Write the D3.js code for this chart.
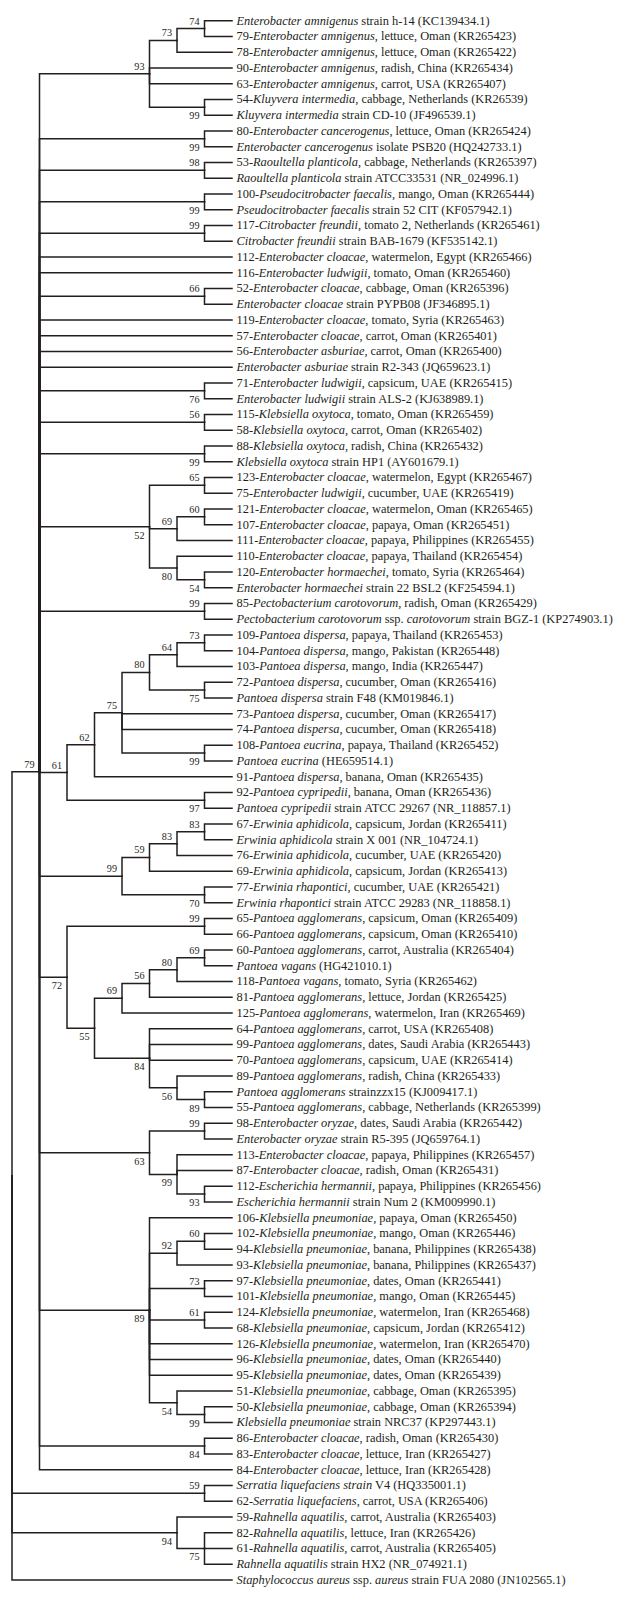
<!DOCTYPE html>
<html><head><meta charset="utf-8">
<script src="https://cdn.jsdelivr.net/npm/d3@7"></script>
<style>
html,body{margin:0;padding:0;background:#fff;}
svg{display:block;}
</style></head><body>
<svg id="chart" width="618" height="1599"></svg>
<script>
// ---- DATA ----
// Leaf labels in tree order (text between * * is italic)
const leafLabels = [
"*Enterobacter amnigenus* strain h-14 (KC139434.1)",
"79-*Enterobacter amnigenus*, lettuce, Oman (KR265423)",
"78-*Enterobacter amnigenus*, lettuce, Oman (KR265422)",
"90-*Enterobacter amnigenus*, radish, China (KR265434)",
"63-*Enterobacter amnigenus*, carrot, USA (KR265407)",
"54-*Kluyvera intermedia*, cabbage, Netherlands (KR26539)",
"*Kluyvera intermedia* strain CD-10 (JF496539.1)",
"80-*Enterobacter cancerogenus*, lettuce, Oman (KR265424)",
"*Enterobacter cancerogenus* isolate PSB20 (HQ242733.1)",
"53-*Raoultella planticola*, cabbage, Netherlands (KR265397)",
"*Raoultella planticola* strain ATCC33531 (NR_024996.1)",
"100-*Pseudocitrobacter faecalis,* mango, Oman (KR265444)",
"*Pseudocitrobacter faecalis* strain 52 CIT (KF057942.1)",
"117-*Citrobacter freundii*, tomato 2, Netherlands (KR265461)",
"*Citrobacter freundii* strain BAB-1679 (KF535142.1)",
"112-*Enterobacter cloacae*, watermelon, Egypt (KR265466)",
"116-*Enterobacter ludwigii*, tomato, Oman (KR265460)",
"52-*Enterobacter cloacae*, cabbage, Oman (KR265396)",
"*Enterobacter cloacae* strain PYPB08 (JF346895.1)",
"119-*Enterobacter cloacae*, tomato, Syria (KR265463)",
"57-*Enterobacter cloacae*, carrot, Oman (KR265401)",
"56-*Enterobacter asburiae*, carrot, Oman (KR265400)",
"*Enterobacter asburiae* strain R2-343 (JQ659623.1)",
"71-*Enterobacter ludwigii*, capsicum, UAE (KR265415)",
"*Enterobacter ludwigii* strain ALS-2 (KJ638989.1)",
"115-*Klebsiella oxytoca*, tomato, Oman (KR265459)",
"58-*Klebsiella oxytoca*, carrot, Oman (KR265402)",
"88-*Klebsiella oxytoca*, radish, China (KR265432)",
"*Klebsiella oxytoca* strain HP1 (AY601679.1)",
"123-*Enterobacter cloacae*, watermelon, Egypt (KR265467)",
"75-*Enterobacter ludwigii*, cucumber, UAE (KR265419)",
"121-*Enterobacter cloacae*, watermelon, Oman (KR265465)",
"107-*Enterobacter cloacae*, papaya, Oman (KR265451)",
"111-*Enterobacter cloacae*, papaya, Philippines (KR265455)",
"110-*Enterobacter cloacae*, papaya, Thailand (KR265454)",
"120-*Enterobacter hormaechei*, tomato, Syria (KR265464)",
"*Enterobacter hormaechei* strain 22 BSL2 (KF254594.1)",
"85-*Pectobacterium carotovorum*, radish, Oman (KR265429)",
"*Pectobacterium carotovorum* ssp. *carotovorum* strain BGZ-1 (KP274903.1)",
"109-*Pantoea dispersa*, papaya, Thailand (KR265453)",
"104-*Pantoea dispersa*, mango, Pakistan (KR265448)",
"103-*Pantoea dispersa*, mango, India (KR265447)",
"72-*Pantoea dispersa*, cucumber, Oman (KR265416)",
"*Pantoea dispersa* strain F48 (KM019846.1)",
"73-*Pantoea dispersa*, cucumber, Oman (KR265417)",
"74-*Pantoea dispersa*, cucumber, Oman (KR265418)",
"108-*Pantoea eucrina*, papaya, Thailand (KR265452)",
"*Pantoea eucrina* (HE659514.1)",
"91-*Pantoea dispersa*, banana, Oman (KR265435)",
"92-*Pantoea cypripedii*, banana, Oman (KR265436)",
"*Pantoea cypripedii* strain ATCC 29267 (NR_118857.1)",
"67-*Erwinia aphidicola*, capsicum, Jordan (KR265411)",
"*Erwinia aphidicola* strain X 001 (NR_104724.1)",
"76-*Erwinia aphidicola*, cucumber, UAE (KR265420)",
"69-*Erwinia aphidicola*, capsicum, Jordan (KR265413)",
"77-*Erwinia rhapontici*, cucumber, UAE (KR265421)",
"*Erwinia rhapontici* strain ATCC 29283 (NR_118858.1)",
"65-*Pantoea agglomerans*, capsicum, Oman (KR265409)",
"66-*Pantoea agglomerans*, capsicum, Oman (KR265410)",
"60-*Pantoea agglomerans*, carrot, Australia (KR265404)",
"*Pantoea vagans* (HG421010.1)",
"118-*Pantoea vagans*, tomato, Syria (KR265462)",
"81-*Pantoea agglomerans*, lettuce, Jordan (KR265425)",
"125-*Pantoea agglomerans*, watermelon, Iran (KR265469)",
"64-*Pantoea agglomerans*, carrot, USA (KR265408)",
"99-*Pantoea agglomerans*, dates, Saudi Arabia (KR265443)",
"70-*Pantoea agglomerans*, capsicum, UAE (KR265414)",
"89-*Pantoea agglomerans*, radish, China (KR265433)",
"*Pantoea agglomerans* strainzzx15 (KJ009417.1)",
"55-*Pantoea agglomerans*, cabbage, Netherlands (KR265399)",
"98-*Enterobacter oryzae*, dates, Saudi Arabia (KR265442)",
"*Enterobacter oryzae* strain R5-395 (JQ659764.1)",
"113-*Enterobacter cloacae*, papaya, Philippines (KR265457)",
"87-*Enterobacter cloacae*, radish, Oman (KR265431)",
"112-*Escherichia hermannii*, papaya, Philippines (KR265456)",
"*Escherichia hermannii* strain Num 2 (KM009990.1)",
"106-*Klebsiella pneumoniae*, papaya, Oman (KR265450)",
"102-*Klebsiella pneumoniae*, mango, Oman (KR265446)",
"94-*Klebsiella pneumoniae*, banana, Philippines (KR265438)",
"93-*Klebsiella pneumoniae*, banana, Philippines (KR265437)",
"97-*Klebsiella pneumoniae*, dates, Oman (KR265441)",
"101-*Klebsiella pneumoniae*, mango, Oman (KR265445)",
"124-*Klebsiella pneumoniae*, watermelon, Iran (KR265468)",
"68-*Klebsiella pneumoniae*, capsicum, Jordan (KR265412)",
"126-*Klebsiella pneumoniae*, watermelon, Iran (KR265470)",
"96-*Klebsiella pneumoniae*, dates, Oman (KR265440)",
"95-*Klebsiella pneumoniae*, dates, Oman (KR265439)",
"51-*Klebsiella pneumoniae*, cabbage, Oman (KR265395)",
"50-*Klebsiella pneumoniae*, cabbage, Oman (KR265394)",
"*Klebsiella pneumoniae* strain NRC37 (KP297443.1)",
"86-*Enterobacter cloacae*, radish, Oman (KR265430)",
"83-*Enterobacter cloacae*, lettuce, Iran (KR265427)",
"84-*Enterobacter cloacae*, lettuce, Iran (KR265428)",
"*Serratia liquefaciens strain* V4 (HQ335001.1)",
"62-*Serratia liquefaciens*, carrot, USA (KR265406)",
"59-*Rahnella aquatilis*, carrot, Australia (KR265403)",
"82-*Rahnella aquatilis*, lettuce, Iran (KR265426)",
"61-*Rahnella aquatilis*, carrot, Australia (KR265405)",
"*Rahnella aquatilis* strain HX2 (NR_074921.1)",
"*Staphylococcus aureus* ssp. *aureus* strain FUA 2080 (JN102565.1)"
];

// Tree topology (Newick): leaves = index into leafLabels, internal names = bootstrap values
const topology = "(((((0,1)74,2)73,3,4,(5,6)99)93,(7,8)99,(9,10)98,(11,12)99,(13,14)99,15,16,(17,18)66,19,20,21,22,(23,24)76,(25,26)56,(27,28)99,((29,30)65,((31,32)60,33)69,(34,(35,36)54)80)52,(37,38)99,((((((39,40)73,41)64,(42,43)75)80,44,45,(46,47)99)75,48)62,(49,50)97)61,((((51,52)83,53)83,54)59,(55,56)70)99,((57,58)99,(((((59,60)69,61)80,62)56,63)69,(64,65,66,(67,(68,69)89)56)84)55)72,((70,71)99,(72,73,(74,75)93)99)63,(76,((77,78)60,79)92,(80,81)73,(82,83)61,84,85,86,(87,(88,89)99)54)89,(90,91)84,92)79,(93,94)59,(95,(96,97,98)75)94,99);";

// ---- LAYOUT (label placement: clades whose bootstrap sits under the branch, keyed first-last leaf) ----
const belowLabelClades = ["5-6","7-8","11-12","23-24","27-28","29-36","34-36","35-36","42-43","46-47","49-50","55-56","57-69","59-69","64-69","67-69","68-69","70-75","72-75","74-75","76-89","87-89","88-89","90-91","95-98","96-98"];

function parseNewick(s) {
  let i = 0;
  function node() {
    const n = {};
    if (s[i] === '(') {
      i++; n.children = [];
      while (true) {
        n.children.push(node());
        if (s[i] === ',') { i++; continue; }
        if (s[i] === ')') { i++; break; }
      }
    }
    let name = '';
    while (i < s.length && !',();'.includes(s[i])) name += s[i++];
    n.name = name;
    return n;
  }
  return node();
}

const svg = d3.select('#chart');
const root = d3.hierarchy(parseNewick(topology));

const leafX = 232, rootX = 12;
const x = d3.scaleLinear().domain([root.height, 0]).range([rootX, leafX]);
const y = d3.scaleLinear().domain([0, leafLabels.length - 1]).range([20.7, 1580]);

root.eachAfter(n => {
  n.px = x(n.height);
  if (!n.children) n.py = y(+n.data.name);
  else n.py = (n.children[0].py + n.children[n.children.length - 1].py) / 2;
});

const ink = '#231f20';
const g = svg.append('g');

g.selectAll('path.link')
  .data(root.descendants().filter(n => n.parent))
  .join('path')
  .attr('class', 'link')
  .attr('fill', 'none')
  .attr('stroke', ink)
  .attr('stroke-width', 1.5)
  .attr('stroke-linecap', 'square')
  .attr('d', n => `M${n.parent.px},${n.parent.py}V${n.py}H${n.px}`);

// leaf labels
const labels = g.selectAll('text.leaf')
  .data(root.leaves())
  .join('text')
  .attr('class', 'leaf')
  .attr('x', leafX + 4.5)
  .attr('y', n => n.py + 4)
  .attr('font-family', '"Liberation Serif", "DejaVu Serif", serif')
  .attr('font-size', 12.4)
  .attr('fill', ink);
labels.each(function(n) {
  const parts = leafLabels[+n.data.name].split('*');
  const t = d3.select(this);
  parts.forEach((p, k) => {
    if (!p) return;
    t.append('tspan').attr('font-style', k % 2 ? 'italic' : 'normal').text(p);
  });
});

// bootstrap values
const belowSet = new Set(belowLabelClades);
const internal = root.descendants().filter(n => n.children && n.data.name);
g.selectAll('text.boot')
  .data(internal)
  .join('text')
  .attr('class', 'boot')
  .attr('text-anchor', 'end')
  .attr('x', n => n.px - 5)
  .attr('y', n => {
    const lv = n.leaves();
    const key = lv[0].data.name + '-' + lv[lv.length - 1].data.name;
    return belowSet.has(key) ? n.py + 12 : n.py - 4;
  })
  .attr('font-family', '"Liberation Serif", "DejaVu Serif", serif')
  .attr('font-size', 10.2)
  .attr('fill', ink)
  .text(n => n.data.name);
</script>
</body></html>
